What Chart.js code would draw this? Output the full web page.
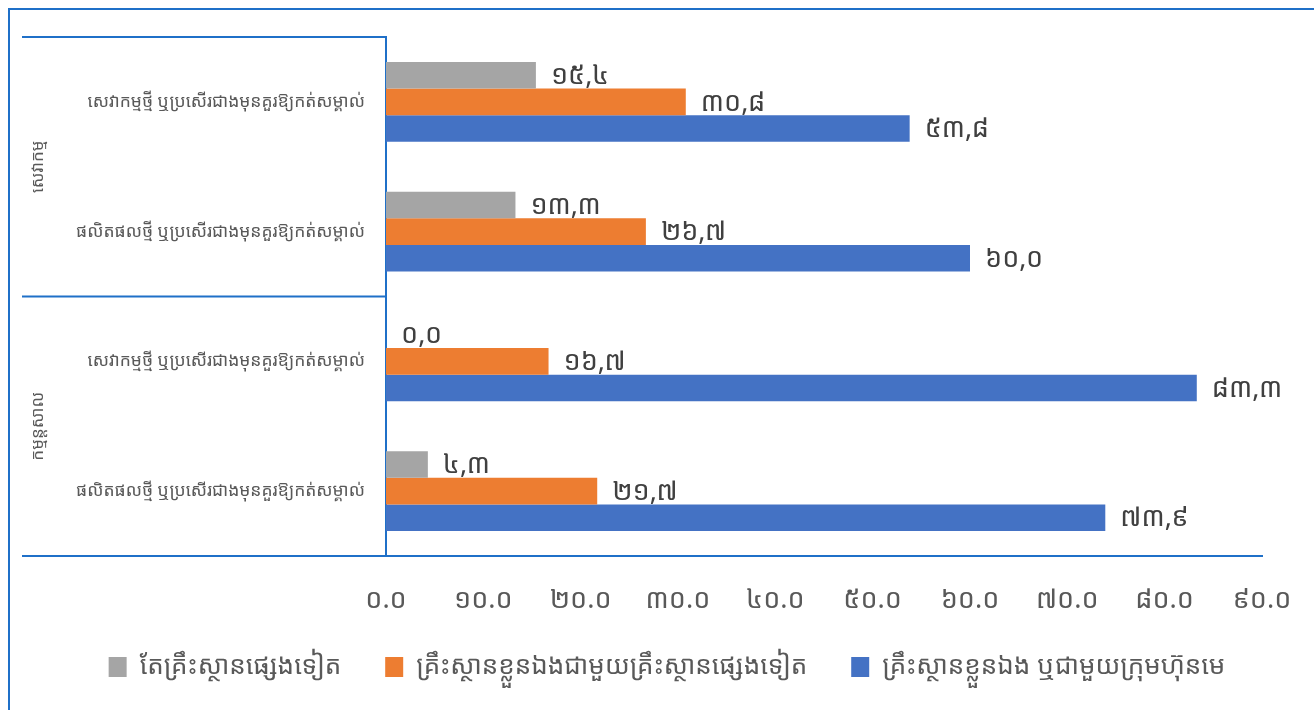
<!DOCTYPE html>
<html>
<head>
<meta charset="utf-8">
<script src="https://cdn.jsdelivr.net/npm/chart.js@4.4.1/dist/chart.umd.min.js"></script>
<style>
  html, body { margin: 0; padding: 0; background: #fff; }
  #wrap { position: relative; width: 1314px; height: 710px; }
</style>
</head>
<body>
<div id="wrap"><canvas id="c" width="1314" height="710"></canvas></div>
<script>
// ---- data ----
const categories = [
  "សេវាកម្មថ្មី ឬប្រសើរជាងមុនគួរឱ្យកត់សម្គាល់",
  "ផលិតផលថ្មី ឬប្រសើរជាងមុនគួរឱ្យកត់សម្គាល់",
  "សេវាកម្មថ្មី ឬប្រសើរជាងមុនគួរឱ្យកត់សម្គាល់",
  "ផលិតផលថ្មី ឬប្រសើរជាងមុនគួរឱ្យកត់សម្គាល់"
];
const groupLabels = ["សេវាកម្ម", "កម្មន្តសាល"];
const groupSizes = [2, 2];
const seriesNames = [
  "តែគ្រឹះស្ថានផ្សេងទៀត",
  "គ្រឹះស្ថានខ្លួនឯងជាមួយគ្រឹះស្ថានផ្សេងទៀត",
  "គ្រឹះស្ថានខ្លួនឯង ឬជាមួយក្រុមហ៊ុនមេ"
];
const otherOnly = [15.4, 13.3, 0.0, 4.3];
const withOthers = [30.8, 26.7, 16.7, 21.7];
const selfOrParent = [53.8, 60.0, 83.3, 73.9];
const xTicks = [0, 10, 20, 30, 40, 50, 60, 70, 80, 90];

const seriesColors = ["#A5A5A5", "#ED7D31", "#4472C4"];
const LINE = "#1F70C8";
const FONT = '"Khmer OS", "Khmer OS System", "Noto Sans Khmer", "Noto Serif Khmer", "Noto Sans", sans-serif';

function khmerDigits(s) {
  return String(s).replace(/[0-9]/g, d => String.fromCharCode(0x17E0 + Number(d)));
}

const decorPlugin = {
  id: 'decor',
  afterLayout(chart) {
    if (chart.legend) {
      chart.legend.left += 36;
      chart.legend.right += 36;
    }
  },
  beforeDraw(chart) {
    const ctx = chart.ctx;
    ctx.save();
    ctx.strokeStyle = LINE;
    ctx.lineWidth = 2;
    ctx.beginPath();
    ctx.moveTo(9, 710); ctx.lineTo(9, 9); ctx.lineTo(1314, 9);
    ctx.stroke();
    ctx.restore();
  },
  afterDraw(chart) {
    const ctx = chart.ctx;
    const y = chart.scales.y;
    const area = chart.chartArea;
    const half = (y.getPixelForValue(1) - y.getPixelForValue(0)) / 2;
    ctx.save();
    ctx.strokeStyle = LINE;
    ctx.lineWidth = 2;
    let idx = 0;
    const bounds = [y.getPixelForValue(0) - half];
    groupSizes.forEach(n => { idx += n; bounds.push(y.getPixelForValue(idx - 1) + half); });
    bounds.forEach(b => {
      ctx.beginPath(); ctx.moveTo(22, b); ctx.lineTo(area.left, b); ctx.stroke();
    });
    ctx.fillStyle = '#595959';
    ctx.font = '17px ' + FONT;
    ctx.textAlign = 'center';
    ctx.textBaseline = 'middle';
    groupLabels.forEach((g, i) => {
      const cy = (bounds[i] + bounds[i + 1]) / 2;
      ctx.save();
      ctx.translate(38, cy);
      ctx.rotate(-Math.PI / 2);
      ctx.fillText(g, 0, 0);
      ctx.restore();
    });
    // data labels
    ctx.fillStyle = '#404040';
    ctx.font = '27px ' + FONT;
    ctx.textAlign = 'left';
    ctx.textBaseline = 'middle';
    chart.data.datasets.forEach((ds, di) => {
      const meta = chart.getDatasetMeta(di);
      meta.data.forEach((bar, i) => {
        const v = ds.data[i];
        ctx.fillText(khmerDigits(v.toFixed(1).replace('.', ',')), bar.x + 15, bar.y + 1);
      });
    });
    ctx.restore();
  }
};

new Chart(document.getElementById('c'), {
  type: 'bar',
  data: {
    labels: categories,
    datasets: [
      { label: seriesNames[0], data: otherOnly, backgroundColor: seriesColors[0] },
      { label: seriesNames[1], data: withOthers, backgroundColor: seriesColors[1] },
      { label: seriesNames[2], data: selfOrParent, backgroundColor: seriesColors[2] }
    ]
  },
  options: {
    indexAxis: 'y',
    responsive: false,
    animation: false,
    categoryPercentage: 0.615,
    barPercentage: 1.0,
    layout: { padding: { top: 37, left: 0, right: 52, bottom: 20 } },
    plugins: {
      tooltip: { enabled: false },
      legend: {
        position: 'bottom',
        labels: {
          font: { family: FONT, size: 26 },
          color: '#595959',
          boxWidth: 18,
          boxHeight: 20,
          padding: 44
        }
      }
    },
    scales: {
      x: {
        min: 0, max: 90,
        afterBuildTicks(s) { s.ticks = xTicks.map(v => ({ value: v })); },
        grid: { display: false, drawTicks: false },
        border: { display: true, color: LINE, width: 2 },
        ticks: {
          padding: 28,
          color: '#595959',
          font: { family: FONT, size: 27 },
          callback: v => khmerDigits(Number(v).toFixed(1))
        },
        afterFit(s) { s.height = 54; s.paddingRight = 0; s.paddingLeft = 0; }
      },
      y: {
        grid: { display: false, drawTicks: false },
        border: { display: true, color: LINE, width: 2 },
        ticks: {
          padding: 21,
          color: '#595959',
          font: { family: FONT, size: 17.5 }
        },
        afterFit(s) { s.width = 386; }
      }
    }
  },
  plugins: [decorPlugin]
});
</script>
</body>
</html>
